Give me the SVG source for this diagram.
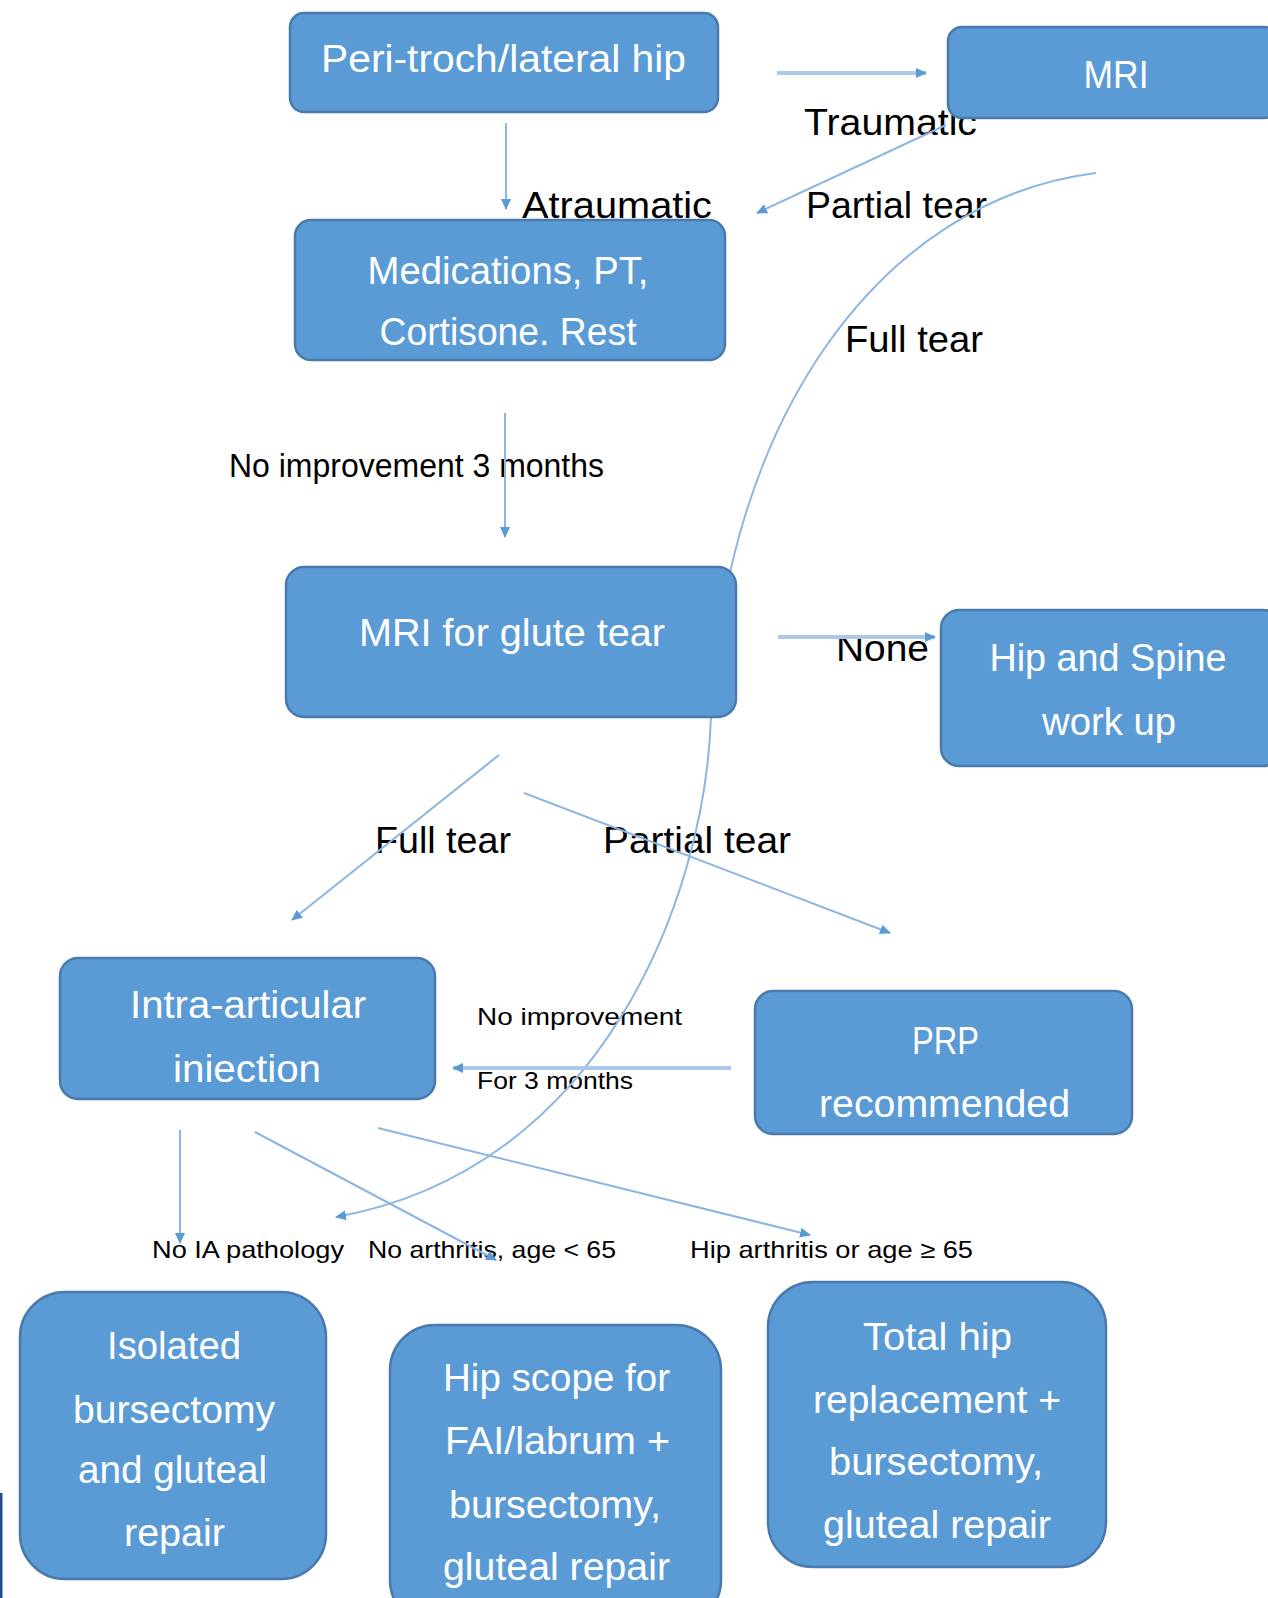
<svg xmlns="http://www.w3.org/2000/svg" width="1268" height="1598" viewBox="0 0 1268 1598">
<defs>
<marker id="ah" markerWidth="12" markerHeight="12" refX="10" refY="6" orient="auto" markerUnits="userSpaceOnUse">
<path d="M0,1 L11,6 L0,11 Z" fill="#5B9BD5"/>
</marker>
<style>
.box{fill:#5B9BD5;stroke:#4A7AAD;stroke-width:2.5}
.nt{font-family:"Liberation Sans",Arial,sans-serif;font-size:38px;fill:#FFFFFF;text-anchor:middle}
.lb{font-family:"Liberation Sans",Arial,sans-serif;font-size:37px;fill:#000000}
.lm{font-family:"Liberation Sans",Arial,sans-serif;font-size:33px;fill:#000000}
.ls{font-family:"Liberation Sans",Arial,sans-serif;font-size:24px;fill:#000000}
.cn{fill:none;stroke:#8DB5E2;stroke-width:2;marker-end:url(#ah)}
.cw{fill:none;stroke:#A9C8EA;stroke-width:4;marker-end:url(#ah)}
</style>
</defs>
<rect x="0" y="0" width="1268" height="1598" fill="#FFFFFF"/>

<g id="labels">
<text class="lb" x="804" y="135" textLength="173" lengthAdjust="spacingAndGlyphs">Traumatic</text>
<text class="lb" x="522" y="218" textLength="190" lengthAdjust="spacingAndGlyphs">Atraumatic</text>
<text class="lb" x="806" y="218" textLength="181" lengthAdjust="spacingAndGlyphs">Partial tear</text>
<text class="lb" x="845" y="352" textLength="138" lengthAdjust="spacingAndGlyphs">Full tear</text>
<text class="lm" x="229" y="477" textLength="375" lengthAdjust="spacingAndGlyphs">No improvement 3 months</text>
<text class="lb" x="836" y="661" textLength="93" lengthAdjust="spacingAndGlyphs">None</text>
<text class="lb" x="375" y="853" textLength="136" lengthAdjust="spacingAndGlyphs">Full tear</text>
<text class="lb" x="603" y="853" textLength="188" lengthAdjust="spacingAndGlyphs">Partial tear</text>
<text class="ls" x="477" y="1025" textLength="205" lengthAdjust="spacingAndGlyphs">No improvement</text>
<text class="ls" x="477" y="1089" textLength="156" lengthAdjust="spacingAndGlyphs">For 3 months</text>
<text class="ls" x="152" y="1258" textLength="192" lengthAdjust="spacingAndGlyphs">No IA pathology</text>
<text class="ls" x="368" y="1258" textLength="248" lengthAdjust="spacingAndGlyphs">No arthritis, age &lt; 65</text>
<text class="ls" x="690" y="1258" textLength="283" lengthAdjust="spacingAndGlyphs">Hip arthritis or age ≥ 65</text>
</g>

<g id="connectors">
<line class="cw" x1="777" y1="73" x2="926" y2="73"/>
<line class="cn" x1="506" y1="123" x2="506" y2="209"/>
<line class="cn" x1="946" y1="125" x2="757" y2="213"/>
<path class="cn" d="M1096,173 C880,200 725,420 711,717 C705,900 600,1170 336,1217"/>
<line class="cn" x1="505" y1="413" x2="505" y2="537"/>
<line class="cw" x1="778" y1="637" x2="935" y2="637"/>
<line class="cn" x1="499" y1="755" x2="292" y2="920"/>
<line class="cn" x1="524" y1="793" x2="890" y2="933"/>
<line class="cw" x1="731" y1="1068" x2="453" y2="1068"/>
<line class="cn" x1="180" y1="1130" x2="180" y2="1243"/>
<line class="cn" x1="255" y1="1132" x2="496" y2="1260"/>
<line class="cn" x1="378" y1="1128" x2="810" y2="1235"/>
</g>

<g id="n-peri"><rect class="box" x="290" y="13" width="428" height="99" rx="14"/>
<text class="nt" x="503.5" y="72" textLength="365" lengthAdjust="spacingAndGlyphs">Peri-troch/lateral hip</text></g>
<g id="n-mri"><rect class="box" x="948" y="27" width="330" height="91" rx="14"/>
<text class="nt" x="1116" y="88" textLength="65" lengthAdjust="spacingAndGlyphs">MRI</text></g>
<g id="n-meds"><rect class="box" x="295" y="220" width="430" height="140" rx="16"/>
<text class="nt" x="508" y="284" textLength="281" lengthAdjust="spacingAndGlyphs">Medications, PT,</text>
<text class="nt" x="508" y="345" textLength="257" lengthAdjust="spacingAndGlyphs">Cortisone. Rest</text></g>
<g id="n-mriglute"><rect class="box" x="286" y="567" width="450" height="150" rx="18"/>
<text class="nt" x="512" y="646" textLength="306" lengthAdjust="spacingAndGlyphs">MRI for glute tear</text></g>
<g id="n-hipspine"><rect class="box" x="941" y="610" width="340" height="156" rx="18"/>
<text class="nt" x="1108" y="671" textLength="237" lengthAdjust="spacingAndGlyphs">Hip and Spine</text>
<text class="nt" x="1109" y="735" textLength="134" lengthAdjust="spacingAndGlyphs">work up</text></g>
<g id="n-intra"><rect class="box" x="60" y="958" width="375" height="141" rx="18"/>
<text class="nt" x="248" y="1018" textLength="236" lengthAdjust="spacingAndGlyphs">Intra-articular</text>
<text class="nt" x="247" y="1082" textLength="148" lengthAdjust="spacingAndGlyphs">iniection</text></g>
<g id="n-prp"><rect class="box" x="755" y="991" width="377" height="143" rx="18"/>
<text class="nt" x="945.5" y="1054" textLength="67" lengthAdjust="spacingAndGlyphs">PRP</text>
<text class="nt" x="944.5" y="1117" textLength="251" lengthAdjust="spacingAndGlyphs">recommended</text></g>
<g id="n-isolated"><rect class="box" x="20" y="1292" width="306" height="287" rx="45"/>
<text class="nt" x="174" y="1359" textLength="134" lengthAdjust="spacingAndGlyphs">Isolated</text>
<text class="nt" x="174" y="1423" textLength="202" lengthAdjust="spacingAndGlyphs">bursectomy</text>
<text class="nt" x="172.5" y="1483" textLength="189" lengthAdjust="spacingAndGlyphs">and gluteal</text>
<text class="nt" x="174.5" y="1546" textLength="101" lengthAdjust="spacingAndGlyphs">repair</text></g>
<g id="n-hipscope"><rect class="box" x="390" y="1325" width="331" height="300" rx="45"/>
<text class="nt" x="556.5" y="1391" textLength="227" lengthAdjust="spacingAndGlyphs">Hip scope for</text>
<text class="nt" x="557.5" y="1454" textLength="225" lengthAdjust="spacingAndGlyphs">FAI/labrum +</text>
<text class="nt" x="555" y="1518" textLength="212" lengthAdjust="spacingAndGlyphs">bursectomy,</text>
<text class="nt" x="556.5" y="1580" textLength="227" lengthAdjust="spacingAndGlyphs">gluteal repair</text></g>
<g id="n-thr"><rect class="box" x="768" y="1282" width="338" height="285" rx="45"/>
<text class="nt" x="937.5" y="1350" textLength="149" lengthAdjust="spacingAndGlyphs">Total hip</text>
<text class="nt" x="937" y="1413" textLength="248" lengthAdjust="spacingAndGlyphs">replacement +</text>
<text class="nt" x="936" y="1475" textLength="214" lengthAdjust="spacingAndGlyphs">bursectomy,</text>
<text class="nt" x="937" y="1538" textLength="228" lengthAdjust="spacingAndGlyphs">gluteal repair</text></g>
<rect x="0" y="1493" width="2.5" height="105" fill="#1F4E8C"/>
</svg>
